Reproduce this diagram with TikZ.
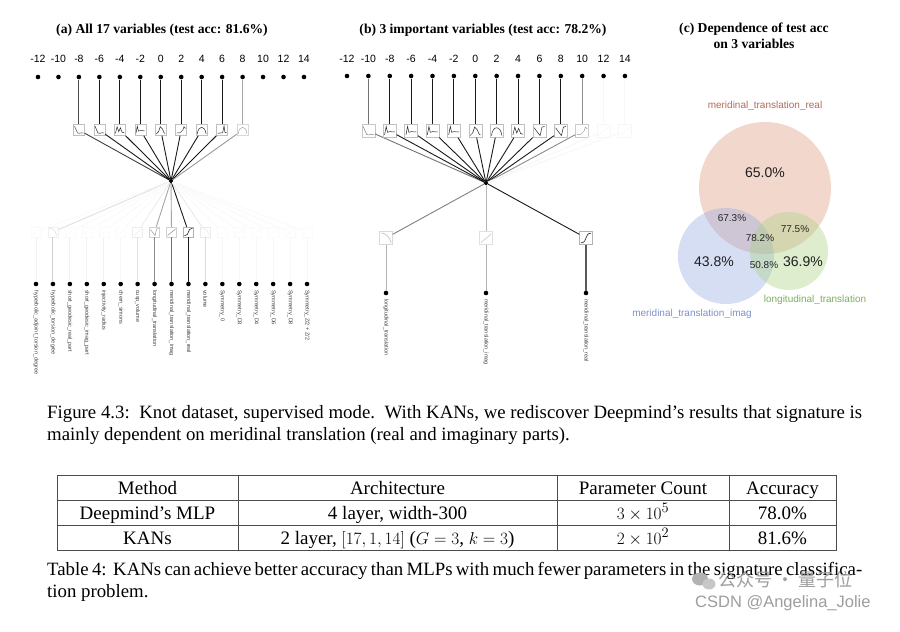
\documentclass[tikz,border=0pt]{standalone}
\usepackage{fontspec}
\setmainfont{Liberation Serif}
\newfontfamily\sansf{Liberation Sans}
\newfontfamily\cjkf{Noto Sans CJK SC}
\definecolor{vred}{RGB}{223,155,132}
\definecolor{vblue}{RGB}{153,173,225}
\definecolor{vgreen}{RGB}{170,210,132}
\definecolor{lred}{RGB}{178,108,90}
\definecolor{lblue}{RGB}{125,145,205}
\definecolor{lgreen}{RGB}{125,175,95}
\newcommand{\kc}[4]{%
  \begin{scope}[shift={(#1.center)},scale=#2/2,yscale=-1]
    \csname kcurve#3\endcsname{#4}
  \end{scope}}
\newcommand{\kcurveA}[1]{\draw[#1,line width=0.5pt] (-0.8,0.7) -- (-0.5,0.0) -- (-0.25,-0.55) -- (0.1,-0.6) -- (0.5,-0.5) -- (0.8,-0.55);}
\newcommand{\kcurveB}[1]{\draw[#1,line width=0.5pt] (-0.8,-0.6) -- (-0.55,0.7) -- (-0.35,-0.2) -- (0,-0.1) -- (0.8,-0.15);}
\newcommand{\kcurveC}[1]{\draw[#1,line width=0.5pt] (-0.8,-0.6) -- (-0.5,0.6) -- (-0.2,-0.3) -- (0.1,0.4) -- (0.4,-0.4) -- (0.8,-0.5);}
\newcommand{\kcurveD}[1]{\draw[#1,line width=0.6pt] (-0.8,-0.75) .. controls (0.3,-0.75) and (-0.3,0.75) .. (0.8,0.75);}
\newcommand{\kcurveE}[1]{\draw[#1,line width=0.5pt] (-0.8,0.8) .. controls (0.1,0.7) and (0.5,0.2) .. (0.8,-0.8);}
\newcommand{\kcurveF}[1]{\draw[#1,line width=0.5pt] (-0.8,-0.7) -- (0.8,0.6);}
\newcommand{\kcurveG}[1]{\draw[#1,line width=0.5pt] (-0.8,0.5) -- (-0.3,-0.2) -- (0.1,-0.7) -- (0.4,0.6) -- (0.8,0.7);}
\newcommand{\kcurveH}[1]{\draw[#1,line width=0.5pt] (-0.8,-0.7) -- (-0.4,-0.3) -- (-0.1,0.6) -- (0.3,0.2) -- (0.6,-0.5) -- (0.8,-0.6);}
\newcommand{\kcurveI}[1]{\draw[#1,line width=0.5pt] (-0.8,-0.5) -- (-0.2,-0.5) -- (0.3,0.0) -- (0.5,0.6) -- (0.8,0.3);}
\newcommand{\kcurveJ}[1]{\draw[#1,line width=0.5pt] (-0.8,-0.7) .. controls (-0.6,0.9) and (0.6,0.9) .. (0.8,-0.7);}
\newcommand{\kcurveK}[1]{\draw[#1,line width=0.5pt] (-0.8,-0.6) -- (0.1,-0.5) -- (0.35,0.75) -- (0.5,-0.4) -- (0.8,-0.5);}
\begin{document}
\begin{tikzpicture}[x=1pt,y=-1pt,
  dot/.style={circle,fill=black,inner sep=0pt,minimum size=4.6pt},
  hubdot/.style={circle,fill=black,inner sep=0pt,minimum size=4pt},
  kbox/.style={draw=black!25,line width=0.5pt,fill=white,inner sep=0pt,minimum size=#1},
  kbox/.default=11pt,
  conn/.style={line width=0.9pt},
  numlab/.style={font=\sansf\fontsize{10.5}{12}\selectfont,inner sep=0pt},
  varlab/.style={font=\sansf\fontsize{5.5}{6}\selectfont,rotate=-90,anchor=west,inner sep=0pt,text=black!75},
  ttl/.style={font=\bfseries\fontsize{13.6}{15}\selectfont,inner sep=0pt},
  pct/.style={font=\sansf\fontsize{10}{12}\selectfont,inner sep=0pt,text=black!85},
  bigpct/.style={font=\sansf\fontsize{14}{16}\selectfont,inner sep=0pt,text=black!88},
  vlab/.style={font=\sansf\fontsize{10}{12}\selectfont,inner sep=0pt},
  captxt/.style={font=\fontsize{18.8}{22}\selectfont,inner sep=0pt,anchor=base west},
  tabtxt/.style={font=\fontsize{19}{22}\selectfont,inner sep=0pt,anchor=base},
  tabline/.style={draw=black!70,line width=0.9pt},
  wm/.style={inner sep=0pt,text=black!38}
]
\useasboundingbox (0,0) rectangle (900,632);
\fill[white] (0,0) rectangle (900,632);

% ---------- titles ----------
\node[ttl] (tA) at (162,30) {(a) All 17 variables (test acc: 81.6\%)};
\node[ttl] (tB) at (483,30) {(b) 3 important variables (test acc: 78.2\%)};
\node[ttl] (tC1) at (754,29) {(c) Dependence of test acc};
\node[ttl] (tC2) at (754,43.5) {on 3 variables};

% ---------- panel (a) ----------
\foreach \lab [count=\k from 0] in {-12,-10,-8,-6,-4,-2,0,2,4,6,8,10,12,14}{
  \node[dot] (ta\k) at ({38+20.46*\k},77) {};
  \node[numlab] (na\k) at ({38+20.46*\k},59) {\lab};
}
\node[hubdot] (ha) at (171,181) {};
\foreach \k/\t/\h/\bc/\cv/\cc in {2/70/75/25/A/70, 3/90/90/25/A/85, 4/90/90/25/C/85, 5/90/90/25/B/85, 6/90/90/25/H/85, 7/90/90/25/I/85, 8/90/90/25/J/85, 9/90/90/25/K/85, 10/35/40/15/J/35}{
  \node[kbox=11pt,draw=black!\bc] (ba\k) at ({38+20.46*\k},130) {};
  \kc{ba\k}{11}{\cv}{black!\cc}
  \draw[conn,black!\t] (ta\k) -- (ba\k);
  \draw[conn,black!\h] (ba\k) -- (ha);
}
\foreach \name [count=\j from 0] in {hyperbolic\_adjoint\_torsion\_degree, hyperbolic\_torsion\_degree, short\_geodesic\_real\_part, short\_geodesic\_imag\_part, injectivity\_radius, chern\_simons, cusp\_volume, longitudinal\_translation, meridinal\_translation\_imag, meridinal\_translation\_real, volume, Symmetry\_0, Symmetry\_D3, Symmetry\_D4, Symmetry\_D6, Symmetry\_D8, {Symmetry\_Z/2 + Z/2}}{
  \node[dot] (da\j) at ({36+16.94*\j},284) {};
  \node[varlab] (la\j) at ({36+16.94*\j},290) {\name};
}
\foreach \j/\h/\v/\bc/\cv/\cc in {0/2/5/2/F/2, 1/12/18/6/E/12, 2/2/5/2/F/2, 3/2/5/2/F/2, 4/2/5/2/F/2, 5/2/3/2/F/2, 6/7/11/7/F/8, 7/35/45/18/G/40, 8/35/55/18/F/45, 9/90/90/30/D/85, 10/8/14/8/E/9, 11/2/3/2/F/2, 12/2/3/2/F/2, 13/2/3/2/F/2, 14/2/3/2/F/2, 15/2/3/2/F/2, 16/2/3/2/F/2}{
  \node[kbox=10pt,draw=black!\bc] (bb\j) at ({36+16.94*\j},232) {};
  \kc{bb\j}{10}{\cv}{black!\cc}
  \draw[conn,black!\h] (ha) -- (bb\j);
  \draw[conn,black!\v] (bb\j) -- (da\j);
}

% ---------- panel (b) ----------
\foreach \lab [count=\k from 0] in {-12,-10,-8,-6,-4,-2,0,2,4,6,8,10,12,14}{
  \node[dot] (tb\k) at ({347+21.38*\k},76) {};
  \node[numlab] (nb\k) at ({347+21.38*\k},59) {\lab};
}
\node[hubdot] (hb) at (486,183) {};
\foreach \k/\t/\h/\bc/\cv/\cc in {1/55/55/22/A/50, 2/90/90/25/B/85, 3/90/90/25/B/85, 4/90/90/25/B/85, 5/90/90/25/B/85, 6/90/90/25/H/85, 7/90/90/25/J/85, 8/90/90/25/C/85, 9/90/90/25/G/85, 10/90/90/25/G/85, 11/45/45/20/I/40, 12/3/3/3/F/3, 13/3/3/3/F/3}{
  \node[kbox=13pt,draw=black!\bc] (bx\k) at ({347+21.38*\k},131) {};
  \kc{bx\k}{13}{\cv}{black!\cc}
  \draw[conn,black!\t] (tb\k) -- (bx\k);
  \draw[conn,black!\h] (bx\k) -- (hb);
}
\foreach \q/\xx/\h/\v/\vw/\bc/\cv/\cc/\name in {1/386/50/30/0.9/15/E/30/longitudinal\_translation, 2/486/28/30/0.9/12/F/25/meridinal\_translation\_imag, 3/586/90/65/1.4/30/D/85/meridinal\_translation\_real}{
  \node[kbox=13pt,draw=black!\bc] (qb\q) at (\xx,238) {};
  \kc{qb\q}{13}{\cv}{black!\cc}
  \node[dot] (db\q) at (\xx,293) {};
  \node[varlab] (lb\q) at (\xx,299) {\name};
  \draw[conn,black!\h] (hb) -- (qb\q);
  \draw[black!\v,line width=\vw pt] (qb\q) -- (db\q);
}

% ---------- panel (c) venn ----------
\fill[vred,fill opacity=0.4] (765,188) circle[radius=66];
\fill[vblue,fill opacity=0.4] (726,256) circle[radius=48];
\fill[vgreen,fill opacity=0.4] (789,251) circle[radius=39];
\node[vlab,text=lred] (vr) at (765,106) {meridinal\_translation\_real};
\node[vlab,text=lgreen] (vg) at (815,300) {longitudinal\_translation};
\node[vlab,text=lblue] (vb) at (692,314) {meridinal\_translation\_imag};
\node[bigpct] (p65) at (765,173) {65.0\%};
\node[pct] (p673) at (732,218) {67.3\%};
\node[pct] (p775) at (795,229) {77.5\%};
\node[pct] (p782) at (760,238) {78.2\%};
\node[bigpct] (p438) at (714,262) {43.8\%};
\node[pct] (p508) at (764,265) {50.8\%};
\node[bigpct] (p369) at (803,262) {36.9\%};

% ---------- figure caption ----------
\node[captxt] (cap1) at (47,418) {\makebox[815pt][s]{Figure 4.3:\ \ Knot dataset, supervised mode.\ \ With KANs, we rediscover Deepmind's results that signature is}};
\node[captxt] (cap2) at (47,440) {mainly dependent on meridinal translation (real and imaginary parts).};

% ---------- table ----------
\draw[tabline] (57,475) rectangle (836,550);
\draw[tabline] (57,500) -- (836,500);
\draw[tabline] (57,525) -- (836,525);
\draw[tabline] (238,475) -- (238,550);
\draw[tabline] (557,475) -- (557,550);
\draw[tabline] (729,475) -- (729,550);
\node[tabtxt] (h1) at (147.5,494) {Method};
\node[tabtxt] (h2) at (397.5,494) {Architecture};
\node[tabtxt] (h3) at (643,494) {Parameter Count};
\node[tabtxt] (h4) at (782.5,494) {Accuracy};
\node[tabtxt] (r11) at (147.5,519) {Deepmind's MLP};
\node[tabtxt] (r12) at (397.5,519) {4 layer, width-300};
\node[tabtxt] (r13) at (643,519) {$3\times10^5$};
\node[tabtxt] (r14) at (782.5,519) {78.0\%};
\node[tabtxt] (r21) at (147.5,544) {KANs};
\node[tabtxt] (r22) at (397.5,544) {2 layer, $[17,1,14]$ ($G=3$, $k=3$)};
\node[tabtxt] (r23) at (643,544) {$2\times10^2$};
\node[tabtxt] (r24) at (782.5,544) {81.6\%};

% ---------- table caption ----------
\node[captxt] (tc1) at (47,575) {\makebox[815pt][s]{Table 4:\ \ KANs can achieve better accuracy than MLPs with much fewer parameters in the signature classifica-}};
\node[captxt] (tc2) at (47,597) {tion problem.};

% ---------- watermark ----------
\fill[black!30] (700,579) ellipse[x radius=8,y radius=6.5];
\fill[black!22] (709,584) ellipse[x radius=6.5,y radius=5.5];
\node[wm,font=\cjkf\fontsize{18}{20}\selectfont,anchor=west] (wm1) at (718,580) {公众号 · 量子位};
\node[wm,font=\sansf\fontsize{16.5}{18}\selectfont,anchor=west] (wm2) at (695,603) {CSDN @Angelina\_Jolie};
\end{tikzpicture}
\end{document}
